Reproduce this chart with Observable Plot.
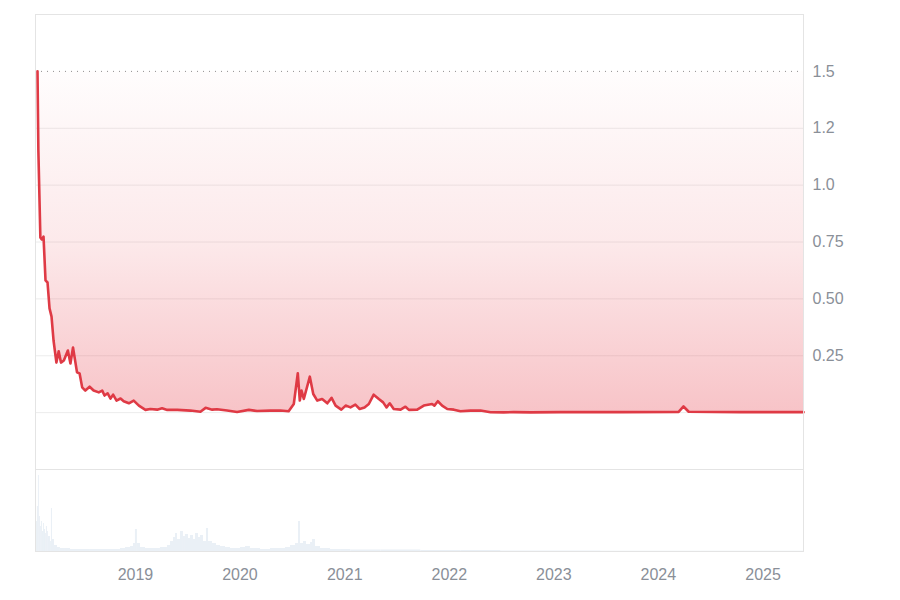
<!DOCTYPE html>
<html>
<head>
<meta charset="utf-8">
<script src="https://cdn.jsdelivr.net/npm/d3@7"></script>
<script src="https://cdn.jsdelivr.net/npm/@observablehq/plot@0.6"></script>
<style>
  html, body { margin: 0; padding: 0; background: #fff; }
  #chart { width: 900px; height: 600px; position: relative; overflow: hidden; }
  #chart svg { display: block; }
</style>
</head>
<body>
<svg width="0" height="0" style="position:absolute">
  <defs>
    <linearGradient id="priceFill" x1="0" y1="0" x2="0" y2="1">
      <stop offset="0" stop-color="#e63946" stop-opacity="0.01"/>
      <stop offset="0.5" stop-color="#e63946" stop-opacity="0.11"/>
      <stop offset="1" stop-color="#e63946" stop-opacity="0.30"/>
    </linearGradient>
  </defs>
</svg>
<div id="chart"></div>
<script>
// ---------- data ----------
const priceDates = ["2018-01-24","2018-01-27","2018-02-03","2018-02-08","2018-02-14","2018-02-21","2018-02-28","2018-03-07","2018-03-14","2018-03-21",
  "2018-03-31","2018-04-08","2018-04-16","2018-04-26","2018-05-10","2018-05-19","2018-05-28","2018-06-11","2018-06-20","2018-06-29",
  "2018-07-10","2018-07-25","2018-08-08","2018-08-26","2018-09-07","2018-09-15","2018-09-26","2018-10-06","2018-10-15","2018-10-27",
  "2018-11-10","2018-11-21","2018-12-09","2018-12-26","2019-01-13","2019-02-05","2019-02-22","2019-03-18","2019-04-04","2019-04-22",
  "2019-05-27","2019-07-12","2019-08-16","2019-09-03","2019-09-26","2019-10-13","2019-11-17","2019-12-22","2020-02-01","2020-03-01",
  "2020-04-17","2020-05-21","2020-06-19","2020-07-07","2020-07-21","2020-07-28","2020-08-03","2020-08-11","2020-09-01","2020-09-13",
  "2020-09-27","2020-10-14","2020-11-01","2020-11-16","2020-11-30","2020-12-20","2021-01-04","2021-01-21","2021-02-07","2021-02-22",
  "2021-03-11","2021-03-26","2021-04-12","2021-04-30","2021-05-15","2021-05-27","2021-06-07","2021-06-21","2021-07-15","2021-08-01",
  "2021-08-13","2021-09-11","2021-10-04","2021-11-02","2021-11-10","2021-11-22","2021-12-07","2021-12-25","2022-01-17","2022-02-09",
  "2022-03-16","2022-04-20","2022-05-25","2022-07-10","2022-08-14","2022-10-12","2023-01-25","2023-08-22","2024-03-12","2024-03-29",
  "2024-04-16","2024-10-14","2025-05-22"];
const priceValues = [1.500,1.153,0.770,0.761,0.774,0.581,0.572,0.458,0.422,0.317,
  0.220,0.270,0.220,0.229,0.273,0.216,0.286,0.177,0.172,0.111,
  0.097,0.114,0.097,0.089,0.097,0.075,0.085,0.062,0.079,0.053,
  0.062,0.050,0.041,0.053,0.031,0.012,0.016,0.013,0.019,0.012,
  0.012,0.009,0.004,0.021,0.013,0.015,0.009,0.003,0.012,0.007,
  0.009,0.009,0.006,0.038,0.173,0.053,0.097,0.060,0.158,0.082,
  0.053,0.060,0.041,0.065,0.031,0.013,0.031,0.023,0.035,0.016,
  0.023,0.038,0.079,0.060,0.045,0.023,0.041,0.016,0.013,0.026,
  0.012,0.013,0.031,0.038,0.031,0.050,0.031,0.016,0.013,0.006,
  0.009,0.009,0.0015,0.001,0.002,0.001,0.002,0.002,0.003,0.027,
  0.004,0.002,0.002];

// volume (relative units), dates as decimal years
const volumeYears = [2018.053,2018.062,2018.072,2018.081,2018.091,2018.100,2018.110,2018.120,2018.129,2018.139,2018.148,2018.158,2018.167,
  2018.187,2018.196,2018.206,2018.225,2018.254,2018.282,2018.330,2018.378,2018.474,2018.569,2018.665,2018.761,2018.856,2018.904,2018.952,2018.981,
  2019.000,2019.019,2019.048,2019.096,2019.144,2019.239,2019.306,
  2019.335,2019.364,2019.383,2019.402,2019.431,2019.459,2019.478,2019.507,2019.526,2019.555,2019.574,2019.603,2019.622,2019.651,2019.679,2019.699,2019.737,2019.775,2019.813,2019.861,2019.909,
  2020.005,2020.053,2020.100,2020.196,2020.292,2020.388,2020.435,2020.483,2020.531,2020.560,2020.579,2020.608,2020.636,2020.675,2020.694,2020.722,2020.770,2020.866,2020.962,2021.057,
  2021.344,2021.727,2022.110,2022.493,2023.450,2024.407,2025.364];
const volumeValues = [30,45,76,35,25,30,20,28,22,18,25,20,15,
  10,43,12,6,4,3,3,2,2,2,2,2,3,4,5,8,
  22,8,4,3,3,4,6,
  10,14,18,12,20,15,17,13,16,12,18,14,16,10,23,10,8,6,5,4,3,
  4,5,3,2,3,3,4,6,8,30,8,10,7,9,12,5,3,2,2,1.5,
  1.5,1,1,0.5,0.3,0.3,0.3];

const yTicks = [0.25, 0.5, 0.75, 1.0, 1.25, 1.5];
const yLabels = ["0.25", "0.50", "0.75", "1.0", "1.2", "1.5"];
const gridValues = [0, 0.25, 0.5, 0.75, 1.0, 1.25];
const topValue = 1.5;
const yearLabels = ["2019", "2020", "2021", "2022", "2023", "2024", "2025"];
const xStart = "2018-01-17", xEnd = "2025-05-22";

// ---------- build tables ----------
const price = priceDates.map((d, i) => ({date: new Date(d), price: priceValues[i]}));
const decToDate = y => new Date(Date.UTC(Math.floor(y), 0, 1) + (y - Math.floor(y)) * 365.25 * 864e5);
const xDomain = [new Date(xStart), new Date(xEnd)];
const volume = volumeYears.map((y, i) => ({
  date: decToDate(y),
  next: i + 1 < volumeYears.length ? decToDate(volumeYears[i + 1]) : xDomain[1],
  v: volumeValues[i]
}));
const yearTicks = yearLabels.map(y => new Date(Date.UTC(+y, 0, 1)));

const FONT = '"Liberation Sans", Arial, Helvetica, sans-serif';
const LABEL = "#8a8f98";

const main = Plot.plot({
  width: 900, height: 469,
  marginTop: 14, marginBottom: 0, marginLeft: 35, marginRight: 97,
  x: {type: "utc", domain: xDomain, axis: null},
  y: {domain: [-0.25, 1.75], label: null},
  style: {fontFamily: FONT, fontSize: "16px", color: LABEL, background: "transparent", overflow: "visible"},
  marks: [
    Plot.ruleY(gridValues, {stroke: "#ececec", strokeWidth: 1}),
    Plot.ruleY([topValue], {stroke: "#8f8f8f", strokeDasharray: "1,5", strokeWidth: 1}),
    Plot.areaY(price, {x: "date", y1: "price", y2: () => topValue, fill: "url(#priceFill)"}),
    Plot.lineY(price, {x: "date", y: "price", stroke: "#df3a45", strokeWidth: 2.6, strokeLinejoin: "round", strokeLinecap: "round"}),
    Plot.frame({stroke: "#e4e4e4"}),
    Plot.axisY(yTicks, {anchor: "right", label: null, tickSize: 0, tickPadding: 9,
      tickFormat: d => yLabels[yTicks.indexOf(d)], fill: LABEL, fontSize: 16})
  ]
});

const vol = Plot.plot({
  width: 900, height: 131,
  marginTop: 0, marginBottom: 49, marginLeft: 35, marginRight: 97,
  x: {type: "utc", domain: xDomain, label: null},
  y: {domain: [0, 82], axis: null},
  style: {fontFamily: FONT, fontSize: "16px", color: LABEL, background: "transparent"},
  marks: [
    Plot.rectY(volume, {x1: "date", x2: "next", y: "v", fill: "#eaf0f6", insetLeft: 0, insetRight: 0}),
    Plot.frame({stroke: "#e4e4e4"}),
    Plot.axisX(yearTicks, {label: null, tickSize: 0, tickPadding: 17,
      tickFormat: d => yearLabels[yearTicks.findIndex(t => +t === +d)], fill: LABEL, fontSize: 16})
  ]
});

const chart = document.getElementById("chart");
chart.appendChild(main);
chart.appendChild(vol);
</script>
</body>
</html>
